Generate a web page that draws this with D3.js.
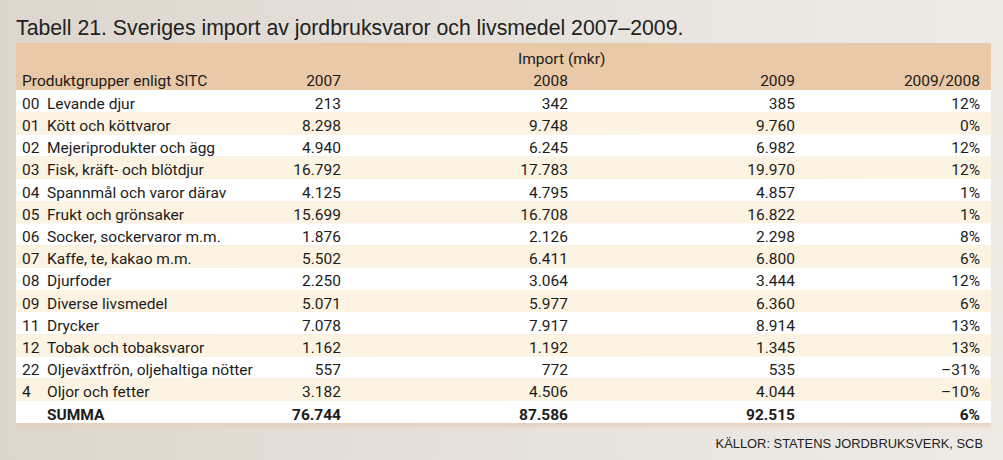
<!DOCTYPE html>
<html><head><meta charset="utf-8">
<script src="https://cdn.jsdelivr.net/npm/d3@7"></script>
<style>
html,body{margin:0;padding:0;}
body{width:1003px;height:460px;overflow:hidden;}
</style></head>
<body>
<svg id="c" width="1003" height="460"></svg>
<script>
const codes = ["00","01","02","03","04","05","06","07","08","09","11","12","22","4",""];
const products = ["Levande djur","Kött och köttvaror","Mejeriprodukter och ägg","Fisk, kräft- och blötdjur","Spannmål och varor därav","Frukt och grönsaker","Socker, sockervaror m.m.","Kaffe, te, kakao m.m.","Djurfoder","Diverse livsmedel","Drycker","Tobak och tobaksvaror","Oljeväxtfrön, oljehaltiga nötter","Oljor och fetter","SUMMA"];
const import2007 = [213,8298,4940,16792,4125,15699,1876,5502,2250,5071,7078,1162,557,3182,76744];
const import2008 = [342,9748,6245,17783,4795,16708,2126,6411,3064,5977,7917,1192,772,4506,87586];
const import2009 = [385,9760,6982,19970,4857,16822,2298,6800,3444,6360,8914,1345,535,4044,92515];
const change = [12,0,12,12,1,1,8,6,12,6,13,13,-31,-10,6];
const colLabels = ["2007","2008","2009","2009/2008"];
const title = "Tabell 21. Sveriges import av jordbruksvaror och livsmedel 2007–2009.";
const headLeft = "Produktgrupper enligt SITC";
const headGroup = "Import (mkr)";
const source = "KÄLLOR: STATENS JORDBRUKSVERK, SCB";

const loc = d3.formatLocale({decimal:",",thousands:".",grouping:[3],currency:["",""],minus:"–"});
const fmtN = loc.format(",d");
const fmtP = v => loc.format("d")(v) + "%";

const svg = d3.select("#c");
const defs = svg.append("defs");
const bg = defs.append("linearGradient").attr("id","bg").attr("x1","0").attr("x2","1").attr("y1","0").attr("y2","0");
bg.append("stop").attr("offset","0").attr("stop-color","#ddd6ce");
bg.append("stop").attr("offset","0.5").attr("stop-color","#e6e1db");
bg.append("stop").attr("offset","1").attr("stop-color","#eeebe7");
const sh = defs.append("linearGradient").attr("id","sh").attr("x1","0").attr("x2","0").attr("y1","0").attr("y2","1");
sh.append("stop").attr("offset","0").attr("stop-color","#e7cdb6").attr("stop-opacity",0.9);
sh.append("stop").attr("offset","1").attr("stop-color","#e7cdb6").attr("stop-opacity",0);

svg.append("rect").attr("width",1003).attr("height",460).attr("fill","url(#bg)");

const L = 16, R = 991, headTop = 43, bodyTop = 90, bodyBottom = 423;
const body = "'Liberation Sans Narrow','Arial Narrow','Roboto',sans-serif";
const reg = "'Liberation Sans','Arial','Helvetica',sans-serif";
const ink = "#1c1c1c";

svg.append("text").attr("x",L).attr("y",35).attr("font-family",reg).attr("font-size",21.25)
  .attr("fill","#222").text(title);

svg.append("rect").attr("x",L).attr("y",headTop).attr("width",R-L).attr("height",bodyTop-headTop).attr("fill","#e9c9a7");

const y = d3.scaleBand().domain(d3.range(products.length)).range([bodyTop, bodyBottom]).padding(0);
const colX = d3.scaleOrdinal().domain(colLabels).range([341, 568, 795, 980]);

svg.append("rect").attr("x",L).attr("y",bodyBottom).attr("width",R-L).attr("height",6).attr("fill","url(#sh)");

const rows = svg.append("g").selectAll("g").data(products).join("g")
  .attr("transform",(d,i)=>`translate(0,${y(i)})`);
rows.append("rect").attr("x",L).attr("width",R-L).attr("height",y.bandwidth())
  .attr("fill",(d,i)=> i%2 ? "#fcf3e2" : "#ffffff");

const base = 18.8;
const tx = (g, x, anchor, f) => g.append("text").attr("x",x).attr("y",base).attr("text-anchor",anchor)
  .attr("font-family",body).attr("font-size",15.5).attr("fill",ink)
  .attr("font-weight",(d,i)=> i===products.length-1 ? "bold":"normal").text(f);

tx(rows, 22, "start", (d,i)=>codes[i]);
tx(rows, 47, "start", d=>d);
tx(rows, colX("2007"), "end", (d,i)=>fmtN(import2007[i]));
tx(rows, colX("2008"), "end", (d,i)=>fmtN(import2008[i]));
tx(rows, colX("2009"), "end", (d,i)=>fmtN(import2009[i]));
tx(rows, colX("2009/2008"), "end", (d,i)=>fmtP(change[i]));

const hd = svg.append("g").attr("font-family",body).attr("font-size",15.5).attr("fill",ink);
hd.append("text").attr("x",518).attr("y",64).text(headGroup);
hd.append("text").attr("x",22).attr("y",86).text(headLeft);
hd.selectAll("text.col").data(colLabels).join("text").attr("class","col")
  .attr("x",d=>colX(d)).attr("y",86).attr("text-anchor","end").text(d=>d);

svg.append("text").attr("x",983).attr("y",448).attr("text-anchor","end")
  .attr("font-family",reg).attr("font-size",12.9).attr("fill","#222").text(source);
</script>
</body></html>
